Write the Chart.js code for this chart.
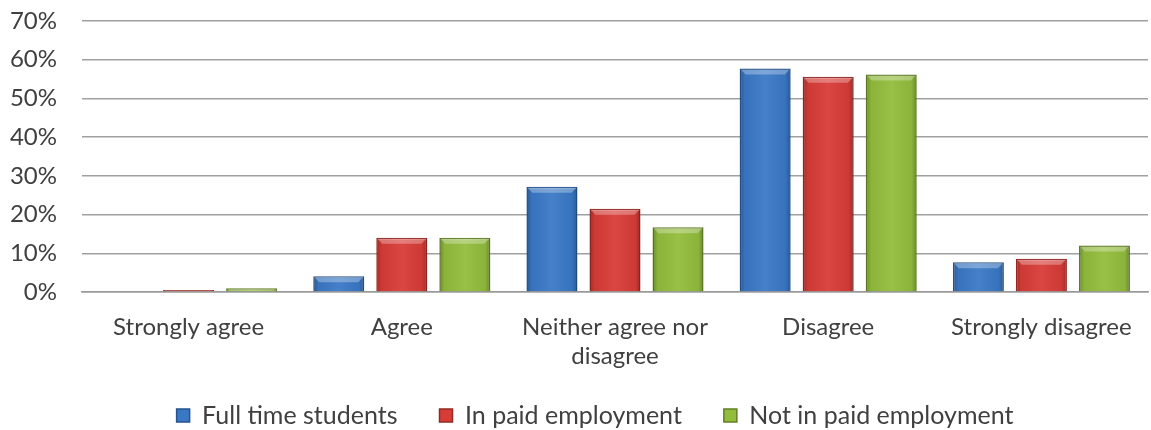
<!DOCTYPE html>
<html>
<head>
<meta charset="utf-8">
<script src="https://cdn.jsdelivr.net/npm/chart.js@4/dist/chart.umd.min.js"></script>
<style>
  html, body { margin: 0; padding: 0; background: #fff; }
  #wrap { width: 1151px; height: 430px; }
</style>
</head>
<body>
<div id="wrap"><canvas id="myChart"></canvas></div>
<script>
// categories and values (percent)
const categories = ['Strongly agree', 'Agree', ['Neither agree nor', 'disagree'], 'Disagree', 'Strongly disagree'];
const fullTime = [0, 4.1, 27.2, 57.7, 7.7];
const paidJob = [0.5, 14, 21.5, 55.6, 8.6];
const noPaidJob = [1, 14, 16.7, 56.2, 12];
const seriesNames = ['Full time students', 'In paid employment', 'Not in paid employment'];

var ctx = document.getElementById('myChart');

// soft bevel over each bar, using the bar elements chart.js laid out
const bevel = {
  id: 'bevel',
  afterLayout(chart) {
    // legend sits a little right of centre and a bit higher in the original
    chart.legend.left += 21;
    chart.legend.right += 21;
    chart.legend.top -= 7;
    chart.legend.bottom -= 7;
  },
  afterDatasetsDraw(chart) {
    const c = chart.ctx;
    chart.data.datasets.forEach((ds, i) => {
      chart.getDatasetMeta(i).data.forEach(bar => {
        const h = bar.base - bar.y;
        if (h < 3) return;
        const l = bar.x - bar.width / 2, r = bar.x + bar.width / 2;
        const e = Math.min(5, h / 2);
        c.save();
        let g = c.createLinearGradient(l, 0, r, 0);
        g.addColorStop(0, 'rgba(0,0,0,0.28)');
        g.addColorStop(0.1, 'rgba(0,0,0,0.05)');
        g.addColorStop(0.5, 'rgba(255,255,255,0.06)');
        g.addColorStop(0.9, 'rgba(0,0,0,0.05)');
        g.addColorStop(1, 'rgba(0,0,0,0.28)');
        c.fillStyle = g;
        c.fillRect(l + 1, bar.y + 1, bar.width - 2, h - 1);
        c.fillStyle = 'rgba(255,255,255,0.3)';
        c.beginPath();
        c.moveTo(l + 1, bar.y + 1);
        c.lineTo(r - 1, bar.y + 1);
        c.lineTo(r - 1 - e, bar.y + 1 + e);
        c.lineTo(l + 1 + e, bar.y + 1 + e);
        c.closePath();
        c.fill();
        c.restore();
      });
    });
  }
};

let dados = {
  labels: categories,
  datasets: [{
    label: seriesNames[0],
    data: fullTime,
    backgroundColor: '#3a78c6',
    borderColor: '#25548f'
  }, {
    label: seriesNames[1],
    data: paidJob,
    backgroundColor: '#d83c37',
    borderColor: '#952824'
  }, {
    label: seriesNames[2],
    data: noPaidJob,
    backgroundColor: '#92bd3c',
    borderColor: '#617f26'
  }]
};

let opcoes = {
  responsive: true,
  maintainAspectRatio: false,
  animation: false,
  layout: { padding: { top: 0, right: 3, left: 0, bottom: -15 } },
  datasets: {
    bar: { borderWidth: 1.5, categoryPercentage: 0.887, barPercentage: 0.81 }
  },
  plugins: {
    tooltip: { enabled: false },
    legend: {
      position: 'bottom',
      labels: {
        color: '#404040',
        font: { family: 'Lato', size: 25 },
        boxWidth: 13,
        boxHeight: 13,
        padding: 42
      }
    }
  },
  scales: {
    x: {
      afterFit: axis => { axis.height = 76; },
      grid: { display: false },
      border: { color: '#999', width: 1.5 },
      ticks: {
        color: '#404040',
        font: { family: 'Lato', size: 24 },
        maxRotation: 0,
        padding: 13
      }
    },
    y: {
      min: 0,
      max: 70,
      afterFit: axis => {
        axis.width = 82;
        axis.paddingTop = 21;
        axis.paddingBottom = 0;
      },
      grid: { color: '#a0a0a0', lineWidth: 1.5, drawTicks: false },
      border: { display: false },
      ticks: {
        stepSize: 10,
        color: '#404040',
        font: { family: 'Lato', size: 24 },
        padding: 25,
        callback: v => v + '%'
      }
    }
  }
};

var myBarChart = new Chart(ctx, {
  type: 'bar',
  data: dados,
  options: opcoes,
  plugins: [bevel]
});
</script>
</body>
</html>
